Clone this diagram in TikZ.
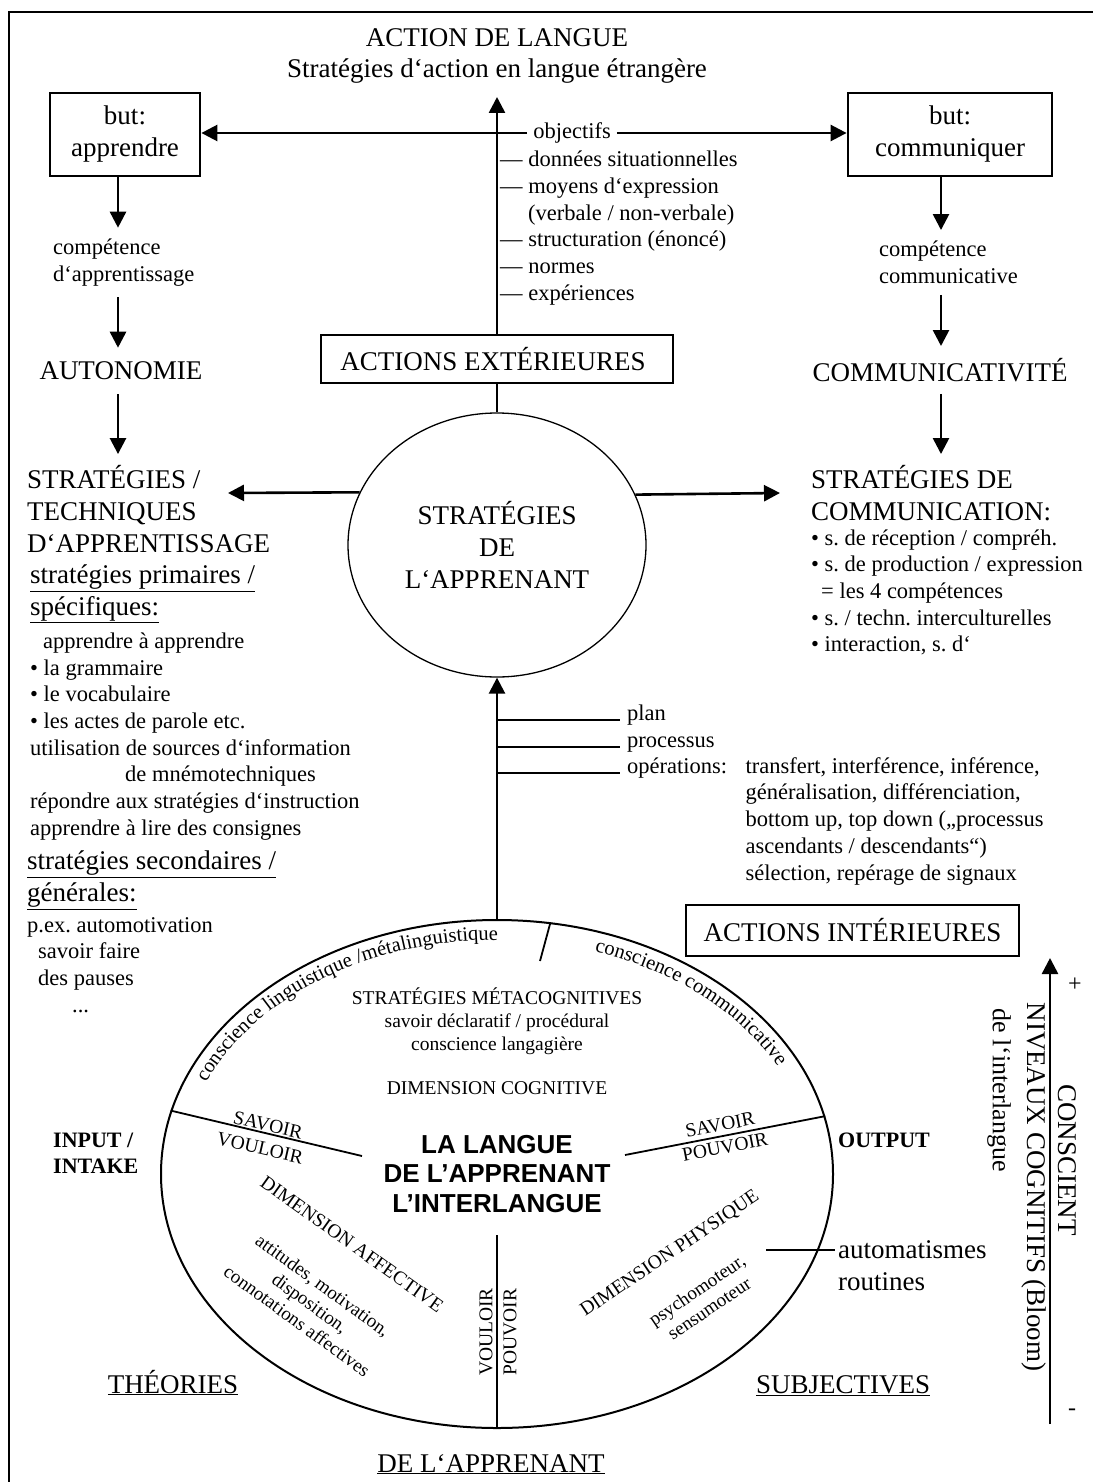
\documentclass[tikz,border=0pt]{standalone}
\usepackage{fontspec}
\setmainfont{Liberation Serif}
\newfontfamily\sansbold{Liberation Sans}
\usetikzlibrary{arrows.meta,positioning,shapes.geometric,decorations.text,calc}
\frenchspacing

\begin{document}
\begin{tikzpicture}[x=1pt,y=-1pt,inner sep=0pt,
  capsf/.style={font=\fontsize{27}{32}\selectfont},
  bodyf/.style={font=\fontsize{22.5}{26.7}\selectfont},
  smallf/.style={font=\fontsize{19.5}{23}\selectfont},
  tinyf/.style={font=\fontsize{19}{22}\selectfont},
  boldf/.style={font=\bfseries\fontsize{22}{26}\selectfont},
  goal/.style={draw,line width=2.8pt,capsf,align=center,minimum height=83pt},
  actions/.style={draw,line width=1.8pt,capsf},
  arr/.style={line width=2.6pt,-{Triangle[length=16pt,width=16pt]}},
  branch/.style={line width=2.6pt},
  split/.style={line width=1.8pt}]
\useasboundingbox (0,0) rectangle (1092,1482);
\draw[line width=1.5pt] (9,12) rectangle (1110,1500);

\node[capsf] (lang) at (497,38) {ACTION DE LANGUE};
\node[capsf] (langsub) at (497,71) {Stratégies d‘action en langue étrangère};
\node[goal,minimum width=150pt] (learn) at (125,134.5) {but:\\apprendre};
\node[goal,minimum width=204pt] (comm) at (950,134.5) {but:\\communiquer};
\node[bodyf,inner xsep=6pt] (obj) at (572,133) {objectifs};
\node[bodyf,align=left,anchor=west] (aspects) at (500,228) {— données situationnelles\\— moyens d‘expression\\\hspace*{28pt}(verbale / non-verbale)\\— structuration (énoncé)\\— normes\\— expériences};
\node[actions,minimum width=352pt,minimum height=48pt] (ext) at (497,359) {ACTIONS EXTÉRIEURES\hspace*{8pt}};
\coordinate (goaltip) at (497,97);
\draw[arr] (ext.north) -- (goaltip);
\draw[arr] (obj.west) -- (obj.west -| learn.east);
\draw[arr] (obj.east) -- (obj.east -| comm.west);

\coordinate (colL) at (118,0);
\coordinate (colR) at (941,0);
\node[bodyf,align=left,anchor=west,inner ysep=11pt] (compL) at (53,262.5) {compétence\\d‘apprentissage};
\node[capsf,inner ysep=14pt] (auto) at (121,371) {AUTONOMIE};
\node[capsf,align=left,anchor=west,inner ysep=11pt] (stratL) at (27,509) {STRATÉGIES /\\TECHNIQUES\\D‘APPRENTISSAGE};
\draw[arr] (learn.south -| colL) -- (compL.north -| colL);
\draw[arr] (compL.south -| colL) -- (auto.north -| colL);
\draw[arr] (auto.south -| colL) -- (stratL.north -| colL);

\node[bodyf,align=left,anchor=west,inner ysep=11pt] (compR) at (879,262.5) {compétence\\communicative};
\node[capsf,inner ysep=12pt] (commv) at (940,370) {COMMUNICATIVITÉ};
\node[capsf,align=left,anchor=west,inner ysep=11pt] (stratR) at (811,493) {STRATÉGIES DE\\COMMUNICATION:};
\draw[arr] (comm.south -| colR) -- (compR.north -| colR);
\draw[arr] (compR.south -| colR) -- (commv.north -| colR);
\draw[arr] (commv.south -| colR) -- (stratR.north -| colR);
\node[bodyf,align=left,anchor=west] (commlist) at (811,592.5) {• s. de réception / compréh.\\• s. de production / expression\\\hspace*{10pt}= les 4 compétences\\• s. / techn. interculturelles\\• interaction, s. d‘};

\node[draw,ellipse,line width=1.3pt,minimum width=298pt,minimum height=264pt,capsf,align=center] (strat) at (497,545) {STRATÉGIES\\DE\\L‘APPRENANT};
\draw[branch] (ext) -- (strat);
\coordinate (tipL) at (228,493);
\coordinate (tipR) at (780,493);
\draw[arr] (strat.159.2) -- (tipL);
\draw[arr] (strat.20.8) -- (tipR);

\node[capsf,align=left,anchor=west] (prim) at (30,594) {\underline{stratégies primaires /}\\\underline{spécifiques:}};
\node[bodyf,align=left,anchor=west] (primlist) at (30,736.5) {\hspace*{13pt}apprendre à apprendre\\• la grammaire\\• le vocabulaire\\• les actes de parole etc.\\utilisation de sources d‘information\\\hspace*{95pt}de mnémotechniques\\répondre aux stratégies d‘instruction\\apprendre à lire des consignes};
\node[capsf,align=left,anchor=west] (second) at (27,880) {\underline{stratégies secondaires /}\\\underline{générales:}};
\node[bodyf,align=left,anchor=west] (secondlist) at (27,965) {p.ex. automotivation\\\hspace*{11pt}savoir faire\\\hspace*{11pt}des pauses\\\hspace*{45pt}...};

\node[draw,ellipse,line width=2pt,minimum width=672pt,minimum height=508pt,align=center,font=\sansbold\bfseries\fontsize{26}{29.5}\selectfont] (inter) at (497,1174) {LA LANGUE\\DE L’APPRENANT\\L’INTERLANGUE};
\draw[arr] (inter.north) -- (strat.south);
\node[bodyf,anchor=base west,inner xsep=7pt] (plan) at (620,720) {plan};
\node[bodyf,anchor=base west,inner xsep=7pt] (proc) at (620,747) {processus};
\node[bodyf,anchor=base west,inner xsep=7pt] (ops) at (620,773) {opérations:};
\draw[branch] (plan.base west -| strat.south) -- (plan.base west);
\draw[branch] (proc.base west -| strat.south) -- (proc.base west);
\draw[branch] (ops.base west -| strat.south) -- (ops.base west);
\node[bodyf,align=left,right=11pt of ops.north east,anchor=north west] (opslist) {transfert, interférence, inférence,\\généralisation, différenciation,\\bottom up, top down („processus\\ascendants / descendants“)\\sélection, repérage de signaux};
\node[actions,minimum width=333pt,minimum height=51pt] (int) at (852.5,930.5) {ACTIONS INTÉRIEURES};

\coordinate (cogL) at (362,1156);
\coordinate (cogR) at (625,1155);
\coordinate (cogT) at (540,961);
\coordinate (cogB) at (497,1235);
\draw[split] (inter.169.2) -- (cogL);
\draw[split] (inter.10.3) -- (cogR);
\draw[split] (inter.78.9) -- (cogT);
\draw[split] (inter.south) -- (cogB);
\path[decorate,decoration={text along path,
  text={|\fontsize{20.5}{20.5}\selectfont|conscience linguistique /métalinguistique}}]
  ($(inter.center)+(203:316 and 234)$) arc[start angle=203,end angle=275,x radius=316,y radius=234];
\path[decorate,decoration={text along path,
  text={|\fontsize{20.5}{20.5}\selectfont|conscience communicative}}]
  ($(inter.center)+(288:316 and 234)$) arc[start angle=288,end angle=340,x radius=316,y radius=234];
\node[smallf,align=center] (meta) at (497,1021) {STRATÉGIES MÉTACOGNITIVES\\savoir déclaratif / procédural\\conscience langagière};
\node[smallf] (cog) at (497,1088) {DIMENSION COGNITIVE};
\node[smallf,rotate=-12.8] (savL) at (268,1125) {SAVOIR};
\node[smallf,rotate=-12.8] (vouL) at (260,1148) {VOULOIR};
\node[smallf,rotate=11.1] (savR) at (720,1125) {SAVOIR};
\node[smallf,rotate=11.1] (pouR) at (725,1147) {POUVOIR};
\node[smallf,rotate=-35.6] (aff) at (352,1244) {DIMENSION AFFECTIVE};
\node[tinyf,align=center,rotate=-36] (affl) at (310,1303) {attitudes, motivation,\\disposition,\\connotations affectives};
\node[smallf,rotate=34] (phys) at (670,1254) {DIMENSION PHYSIQUE};
\node[tinyf,align=center,rotate=34] (physl) at (703,1299) {psychomoteur,\\sensumoteur};
\node[smallf,rotate=90] (vou) at (486,1332) {VOULOIR};
\node[smallf,rotate=90] (pou) at (510,1332) {POUVOIR};

\node[boldf,align=left,anchor=west] (input) at (53,1153) {INPUT /\\INTAKE};
\node[boldf,anchor=west] (output) at (838,1140) {OUTPUT};
\node[capsf,anchor=west,inner xsep=3pt] (autom) at (835,1250) {automatismes};
\node[capsf,anchor=west] (rout) at (838,1282) {routines};
\coordinate (physend) at (766,1250);
\draw[split] (physend) -- (autom.west);

\node[capsf,anchor=base] (theo) at (173,1393) {\underline{THÉORIES}};
\node[capsf,anchor=base] (subj) at (843,1393) {\underline{SUBJECTIVES}};
\node[capsf,anchor=base] (delap) at (491,1472) {\underline{DE L‘APPRENANT}};

\coordinate (lo) at (1050,1424);
\coordinate (hi) at (1050,958);
\draw[arr] (lo) -- (hi);
\node[font=\fontsize{24}{24}\selectfont] (plus) at (1075,985) {+};
\node[font=\fontsize{24}{24}\selectfont] (minus) at (1072,1412) {-};
\node[capsf,rotate=-90] (consc) at (1067,1160) {CONSCIENT};
\node[capsf,rotate=-90] (niv) at (1034,1187) {NIVEAUX COGNITIFS (Bloom)};
\node[font=\fontsize{26}{26}\selectfont,rotate=-90] (dli) at (999,1090) {de l‘interlangue};
\end{tikzpicture}
\end{document}
